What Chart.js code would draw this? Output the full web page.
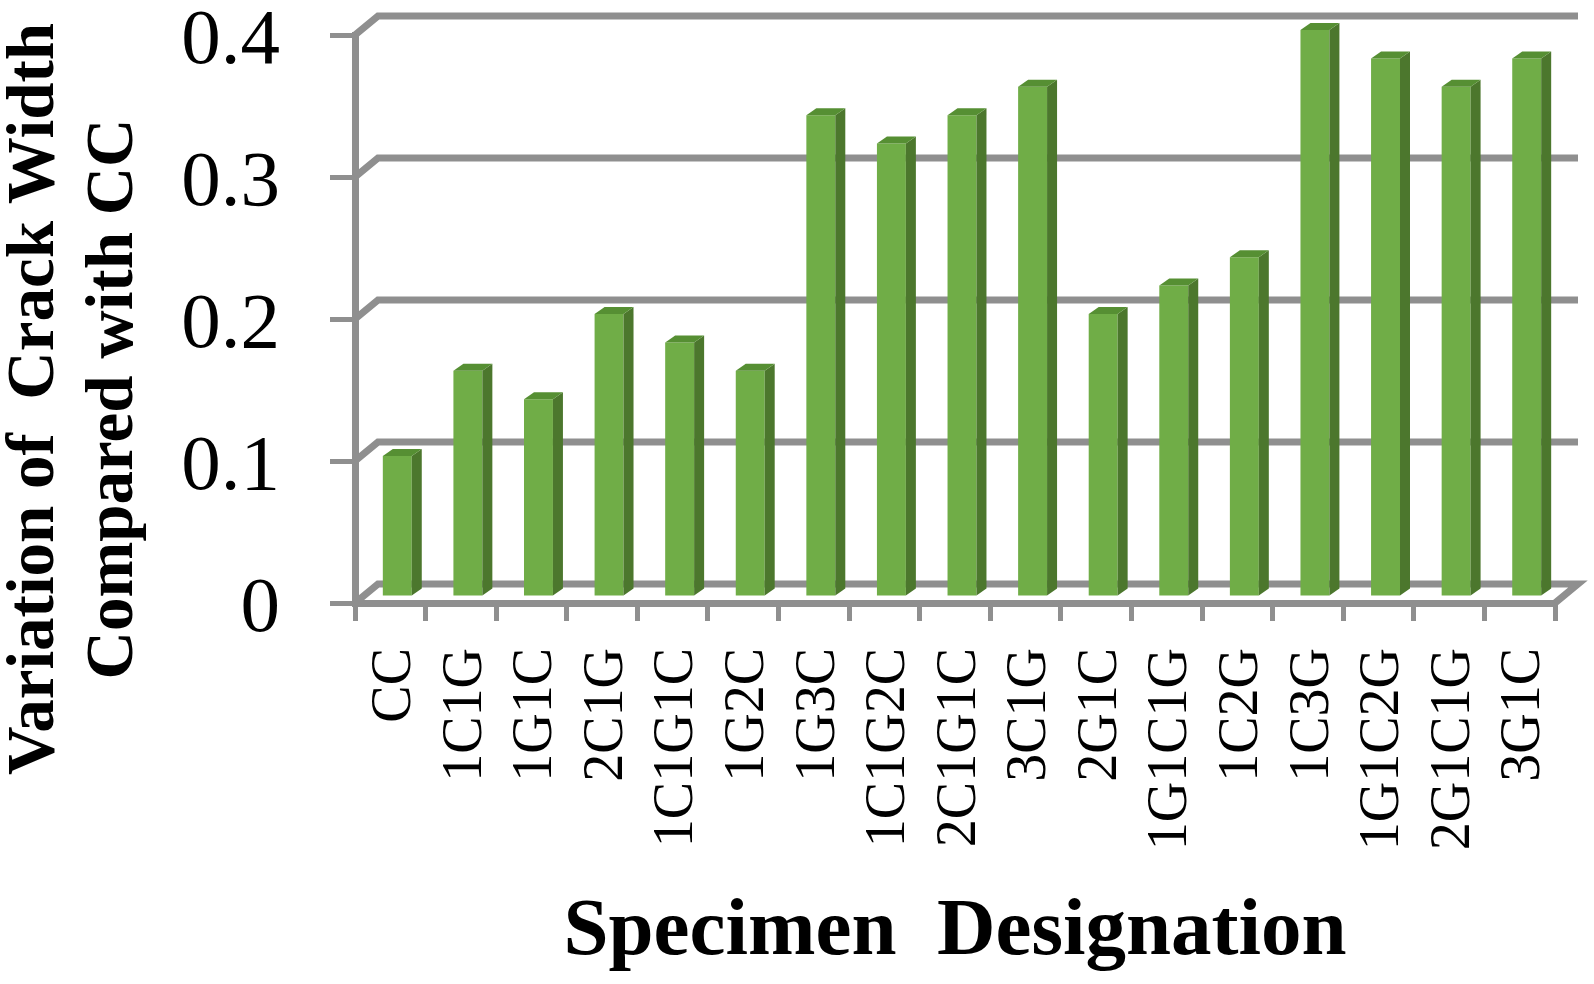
<!DOCTYPE html>
<html lang="en">
<head>
<meta charset="UTF-8">
<title>Crack width variation</title>
<script src="https://cdn.jsdelivr.net/npm/chart.js"></script>
<style>
  body { margin: 0; background: #fff; }
  canvas { display: block; }
</style>
</head>
<body>
<canvas id="crackChart" width="1594" height="984"></canvas>

<script>
// Data
const specimens = ['CC', '1C1G', '1G1C', '2C1G', '1C1G1C', '1G2C', '1G3C', '1C1G2C', '2C1G1C',
  '3C1G', '2G1C', '1G1C1G', '1C2G', '1C3G', '1G1C2G', '2G1C1G', '3G1C'];
const crackWidth = [0.1, 0.16, 0.14, 0.2, 0.18, 0.16, 0.34, 0.32, 0.34,
  0.36, 0.2, 0.22, 0.24, 0.4, 0.38, 0.36, 0.38];
const yTicks = [0, 0.1, 0.2, 0.3, 0.4];
const yTitleLines = ['Variation of  Crack Width', 'Compared with CC'];
const xTitle = 'Specimen  Designation';

const serif = '"Liberation Serif", "Times New Roman", serif';
const gridGray = '#8f8f8f';

// Fake 3D look: back wall, shifted bars with side and top faces
const wall = { dx: 23, dy: -19 };
const barShift = { dx: 7, dy: -5 };
const barDepth = { dx: 10, dy: -7 };

const fake3d = {
  id: 'fake3d',
  beforeDatasetsDraw(chart) {
    const { ctx, scales: { x, y } } = chart;
    ctx.save();
    ctx.strokeStyle = gridGray;
    ctx.lineWidth = 7;
    ctx.lineJoin = 'miter';
    yTicks.forEach(v => {
      const py = y.getPixelForValue(v);
      ctx.beginPath();
      ctx.moveTo(x.left, py);
      ctx.lineTo(x.left + wall.dx, py + wall.dy);
      ctx.lineTo(x.right + wall.dx, py + wall.dy);
      if (v === 0) ctx.lineTo(x.right, py);
      ctx.stroke();
    });
    ctx.restore();
    ctx.save();
    ctx.translate(barShift.dx, barShift.dy);
  },
  afterDatasetsDraw(chart) {
    const { ctx } = chart;
    chart.getDatasetMeta(0).data.forEach(bar => {
      const l = bar.x - bar.width / 2;
      const r = bar.x + bar.width / 2;
      ctx.fillStyle = '#4c772d';
      ctx.beginPath();
      ctx.moveTo(r, bar.y);
      ctx.lineTo(r + barDepth.dx, bar.y + barDepth.dy);
      ctx.lineTo(r + barDepth.dx, bar.base + barDepth.dy);
      ctx.lineTo(r, bar.base);
      ctx.closePath();
      ctx.fill();
      ctx.fillStyle = '#568f33';
      ctx.beginPath();
      ctx.moveTo(l, bar.y);
      ctx.lineTo(l + barDepth.dx, bar.y + barDepth.dy);
      ctx.lineTo(r + barDepth.dx, bar.y + barDepth.dy);
      ctx.lineTo(r, bar.y);
      ctx.closePath();
      ctx.fill();
    });
    ctx.restore();
  },
  afterDraw(chart) {
    const { ctx } = chart;
    ctx.save();
    ctx.fillStyle = '#000';
    ctx.font = 'bold 67px ' + serif;
    ctx.textAlign = 'center';
    ctx.textBaseline = 'middle';
    yTitleLines.forEach((line, i) => {
      ctx.save();
      ctx.translate(36 + i * 79, 399);
      ctx.rotate(-Math.PI / 2);
      ctx.fillText(line, 0, 0);
      ctx.restore();
    });
    ctx.restore();
  }
};

new Chart(document.getElementById('crackChart').getContext('2d'), {
  type: 'bar',
  data: {
    labels: specimens,
    datasets: [{
      data: crackWidth,
      backgroundColor: '#70ad47',
      barPercentage: 0.41,
      categoryPercentage: 1,
      clip: false
    }]
  },
  options: {
    responsive: false,
    animation: false,
    layout: { padding: { top: 35, right: 39, left: 0, bottom: 0 } },
    plugins: { legend: { display: false }, tooltip: { enabled: false } },
    scales: {
      x: {
        grid: { drawOnChartArea: false, color: gridGray, lineWidth: 5, tickLength: 18 },
        border: { color: gridGray, width: 7 },
        ticks: {
          color: '#000',
          font: { family: serif, size: 56 },
          minRotation: 90,
          maxRotation: 90,
          autoSkip: false,
          padding: 27,
          labelOffset: 5
        },
        title: {
          display: true,
          text: xTitle,
          color: '#000',
          font: { family: serif, size: 81, weight: 'bold' },
          padding: { top: 0, bottom: 2 }
        },
        afterFit(scale) {
          scale.height = 381;
          scale.paddingLeft = 0;
          scale.paddingRight = 0;
        }
      },
      y: {
        min: 0,
        max: 0.4,
        afterBuildTicks(scale) {
          scale.ticks = yTicks.map(v => ({ value: v }));
        },
        grid: { drawOnChartArea: false, color: gridGray, lineWidth: 5, tickLength: 25 },
        border: { color: gridGray, width: 7 },
        ticks: {
          color: '#000',
          font: { family: serif, size: 79 },
          padding: 50,
          labelOffset: 7,
          callback: v => String(v)
        },
        afterFit(scale) {
          scale.width = 355;
          scale.paddingTop = 0;
          scale.paddingBottom = 0;
        }
      }
    }
  },
  plugins: [fake3d]
});
</script>
</body>
</html>
